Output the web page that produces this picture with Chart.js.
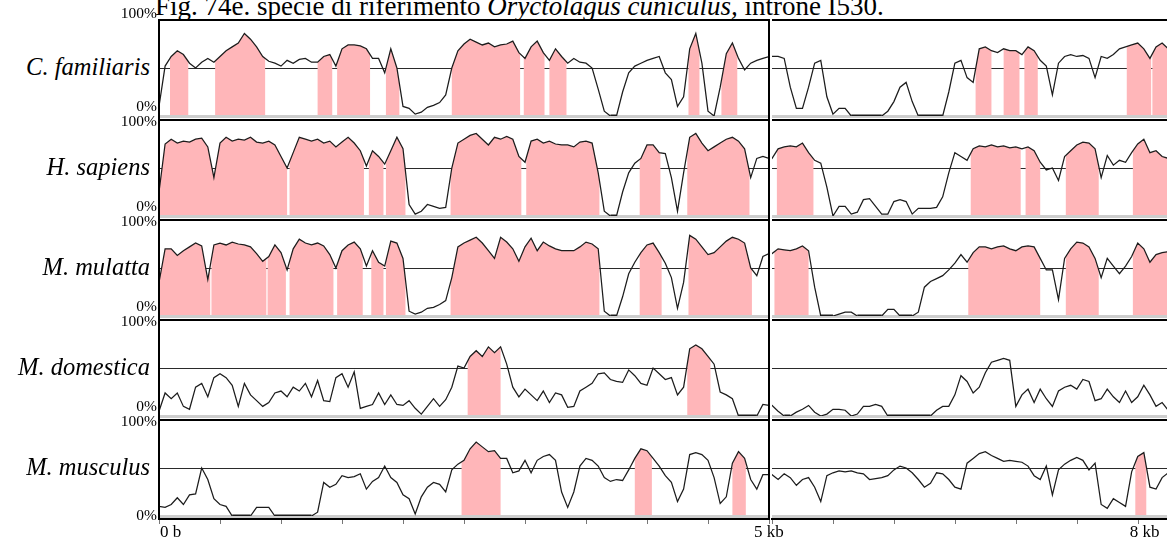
<!DOCTYPE html>
<html><head><meta charset="utf-8">
<script src="https://cdn.jsdelivr.net/npm/chart.js@4.4.1/dist/chart.umd.min.js"></script>
<style>
html,body{margin:0;padding:0;background:#fff;}
#wrap{position:relative;width:1167px;height:545px;overflow:hidden;font-family:"Liberation Serif","Times New Roman",serif;color:#000;background:#fff;}
canvas{position:absolute;}
.t{position:absolute;white-space:nowrap;line-height:1;}
</style></head><body><div id="wrap"></div>
<script>
// ---------- data ----------
const STEP_KB = 0.05;          // sampling step of the conservation curves (kb)
const X_MAX_KB = 8.24;
const SPLIT_KB = 5;
const TICK_STEP_KB = 0.5;
const species = ["C. familiaris", "H. sapiens", "M. mulatta", "M. domestica", "M. musculus"];
const yTickLabels = ["100%", "0%"];
const xTickLabels = [["0 b", 0], ["5 kb", 5], ["8 kb", 8]];
const threshold = 50;

const familiaris = [10,52,62,68,64,55,50,56,60,56, 62,68,72,76,86,80,72,62,57,55, 52,58,55,59,60,56,56,62,64,52,
 70,74,74,73,70,60,60,45,70,50, 10,8,2,4,9,11,14,22,50,68, 75,80,77,74,76,72,74,75,78,66,
 60,72,78,66,58,70,62,55,60,56, 55,50,28,5,0,0,25,45,52,55, 58,60,62,45,38,10,20,70,86,55,
 5,0,30,65,76,60,48,55,58,60, 62,62,60,30,8,8,30,55,58,20, 2,8,8,0,0,0,0,0,0,5,
 15,30,35,15,0,0,0,0,0,25, 55,58,40,35,70,72,68,66,70,68, 68,64,72,68,58,52,22,55,62,64,
 62,63,60,40,62,60,64,70,72,74, 76,70,60,72,76,70];
const sapiens = [25,75,80,76,78,77,80,81,72,40, 76,82,78,80,79,82,77,76,78,74, 62,50,66,82,80,78,80,76,78,72,
 77,82,76,68,52,68,62,54,68,82, 70,12,2,5,12,10,8,9,50,76, 80,84,86,80,74,82,80,83,80,62,
 56,78,80,76,78,75,74,74,72,77, 78,76,45,5,0,0,25,45,55,60, 74,74,66,65,40,5,45,82,86,76,
 68,72,76,80,82,78,70,40,60,62, 60,70,72,73,72,76,66,58,55,30, 0,10,10,2,4,17,18,10,2,2,
 15,17,15,2,8,8,8,9,20,45, 66,62,58,70,73,72,74,72,73,71, 72,70,72,68,56,48,50,37,62,68,
 74,77,76,70,40,63,53,58,56,66, 75,80,66,68,62,60];
const mulatta = [35,70,70,63,68,72,76,73,38,74, 76,74,77,75,74,72,65,57,62,74, 66,48,70,80,76,74,76,73,64,50,
 68,74,77,70,52,68,56,52,78,76, 60,5,2,4,8,9,12,16,40,72, 76,79,82,76,68,60,82,77,70,57,
 72,81,68,77,73,70,68,68,68,72, 77,75,70,5,0,0,20,44,56,66, 74,76,66,55,40,8,35,84,80,72,
 64,66,72,78,82,80,76,50,42,62, 65,70,69,68,70,73,68,30,0,0, 0,2,4,4,0,0,0,0,0,7,
 7,0,0,0,4,30,36,39,42,48, 55,64,56,66,72,72,70,72,73,70, 68,72,73,72,60,48,48,17,60,70,
 77,76,72,60,40,60,52,44,52,62, 76,70,56,64,66,67];
const domestica = [5,24,18,24,10,7,30,34,20,40, 44,40,32,10,34,22,16,10,14,24, 26,20,30,26,34,20,37,16,15,40,
 44,30,46,8,10,12,24,12,22,12, 11,16,8,2,10,18,10,17,30,52, 50,62,68,62,72,66,72,54,30,20,
 28,22,16,26,14,24,22,9,10,26, 30,34,44,45,38,36,35,48,42,34, 32,50,44,38,40,22,30,70,74,70,
 62,54,25,22,18,0,0,0,0,12, 11,5,0,0,4,7,11,4,0,2, 7,7,6,0,2,10,10,12,10,0,
 0,0,0,0,0,0,0,6,10,10, 22,42,36,24,30,45,56,58,60,58, 10,22,28,14,28,18,10,26,30,32,
 28,38,36,16,18,28,20,14,26,14, 20,32,22,10,14,6];
const musculus = [10,9,12,19,12,22,23,50,38,18, 12,10,0,0,0,0,9,9,9,0, 0,0,0,0,0,0,4,35,30,33,
 42,40,41,44,28,36,40,52,40,35, 22,18,2,20,30,35,33,25,48,54, 58,70,77,72,67,68,60,60,45,47,
 58,45,58,62,64,58,25,9,25,52, 60,58,52,40,36,38,37,48,60,70, 68,60,52,42,35,15,28,64,66,64,
 58,40,13,20,55,67,60,38,28,43, 43,38,44,40,32,38,40,30,15,42, 45,47,46,47,45,44,38,39,40,42,
 48,52,50,45,38,30,34,45,44,38, 30,28,55,60,65,67,63,60,57,58, 57,56,52,42,38,52,22,48,54,58,
 61,58,48,55,12,8,18,14,10,46, 62,66,30,28,40,45];

// conserved (pink) regions, [start kb, end kb]
const pinkFamiliaris = [[0.09,0.24],[0.46,0.87],[1.30,1.42],[1.46,1.73],[1.86,1.97],[2.40,2.96],[2.99,3.16],[3.20,3.34],
 [4.34,4.43],[4.61,4.74],[6.67,6.80],[6.90,7.03],[7.07,7.18],[7.91,8.11],[8.12,8.24]];
const pinkSapiens = [[0.0,1.05],[1.07,1.68],[1.72,1.84],[1.86,2.02],[2.39,2.97],[3.01,3.61],[3.94,4.11],[4.33,4.84],
 [5.04,5.34],[6.63,7.04],[7.08,7.20],[7.41,7.68],[7.96,8.24]];
const pinkMulatta = [[0.0,0.42],[0.43,0.88],[0.89,1.04],[1.07,1.43],[1.46,1.67],[1.74,1.84],[1.86,2.02],[2.39,3.61],
 [3.94,4.12],[4.34,4.86],[5.02,5.30],[6.61,7.20],[7.41,7.68],[7.96,8.24]];
const pinkDomestica = [[2.53,2.80],[4.33,4.52]];
const pinkMusculus = [[2.48,2.80],[3.90,4.04],[4.70,4.81],[7.98,8.07]];

const rows = [
  [familiaris, pinkFamiliaris], [sapiens, pinkSapiens], [mulatta, pinkMulatta],
  [domestica, pinkDomestica], [musculus, pinkMusculus]
];

// ---------- style ----------
const PINK = '#ffb6b9';
const LINE = '#1c1c1c';
const ROW_PITCH = 100, ROW_TOP = 20, PLOT_H = 96;
const COLS = [
  {left: 150, width: 630, padL: 9, padR: 11, min: 0, max: SPLIT_KB, first: true},
  {left: 765, width: 402, padL: 7, padR: 0, min: SPLIT_KB, max: X_MAX_KB, first: false}
];

const framePlugin = {
  id: 'frame',
  beforeDatasetsDraw(chart, args, o) {
    const {ctx, chartArea: a, scales: {x, y}} = chart;
    const yT = Math.round(y.getPixelForValue(threshold)) + 0.5;
    ctx.save();
    ctx.strokeStyle = '#2a2a2a'; ctx.lineWidth = 1;
    ctx.beginPath(); ctx.moveTo(a.left, yT); ctx.lineTo(a.right, yT); ctx.stroke();
    ctx.restore();
    ctx.save();
    ctx.beginPath();
    o.intervals.forEach(([s, e]) => {
      const x0 = x.getPixelForValue(s), x1 = x.getPixelForValue(e);
      ctx.rect(x0, a.top - 2, x1 - x0, a.bottom - a.top + 3);
    });
    ctx.clip();
  },
  afterDatasetDraw(chart, args) {
    if (args.index !== 1) return;
    const {ctx, chartArea: a, scales: {y}} = chart;
    ctx.restore();
    const y0 = y.getPixelForValue(0);
    ctx.save();
    ctx.strokeStyle = '#cdcdcd'; ctx.lineWidth = 3;
    ctx.beginPath(); ctx.moveTo(a.left, y0 + 0.5); ctx.lineTo(a.right, y0 + 0.5); ctx.stroke();
    ctx.restore();
  },
  afterDatasetsDraw(chart, args, o) {
    const {ctx, chartArea: a, scales: {x}} = chart;
    ctx.save();
    ctx.strokeStyle = '#000'; ctx.lineWidth = 2;
    const seg = (x0, y0, x1, y1) => { ctx.beginPath(); ctx.moveTo(x0, y0); ctx.lineTo(x1, y1); ctx.stroke(); };
    seg(a.left - (o.first ? 1 : 0), a.top, a.right + (o.first ? 1 : 0), a.top);
    if (o.first) {
      seg(a.left, a.top - 1, a.left, a.bottom + (o.bottom ? 4 : 5));
      seg(a.right, a.top - 1, a.right, a.bottom + (o.bottom ? 4 : 5));
    }
    if (o.bottom) {
      seg(a.left - 1, a.bottom + 3, a.right + 1, a.bottom + 3);
      ctx.strokeStyle = '#777'; ctx.lineWidth = 1;
      const start = Math.ceil(x.min / TICK_STEP_KB - 1e-9);
      for (let k = start; k * TICK_STEP_KB <= x.max + 1e-9; k++) {
        const px = Math.round(x.getPixelForValue(k * TICK_STEP_KB)) + 0.5;
        seg(px, a.bottom + 4, px, a.bottom + 8);
      }
    }
    ctx.restore();
  }
};

const wrap = document.getElementById('wrap');
function addText(txt, css) {
  const d = document.createElement('div');
  d.className = 't'; d.innerHTML = txt; Object.assign(d.style, css); wrap.appendChild(d); return d;
}

// title (partly above the top edge, as in the reference)
addText('Fig. 74e. specie di riferimento <i>Oryctolagus cuniculus,</i> introne I530.',
  {left: '155px', top: '-7px', fontSize: '27px'});

const zeroRun = c => (c.p0.parsed.y === 0 && c.p1.parsed.y === 0) ? 3 : undefined;

const charts = [];
rows.forEach(([vals, intervals], r) => {
  const bottom = r === rows.length - 1;
  COLS.forEach((c) => {
    const cv = document.createElement('canvas');
    const h = bottom ? 122 : 112;
    cv.width = c.width; cv.height = h;
    cv.style.left = c.left + 'px'; cv.style.top = (r * ROW_PITCH + ROW_TOP - 10) + 'px';
    cv.style.width = c.width + 'px'; cv.style.height = h + 'px';
    wrap.appendChild(cv);
    const pts = vals.map((v, i) => ({x: i * STEP_KB, y: v}));
    const ch = new Chart(cv.getContext('2d'), {
      type: 'line',
      data: {datasets: [
        {data: pts, borderColor: LINE, borderWidth: 1.25, pointRadius: 0, fill: false, tension: 0,
         segment: {borderWidth: zeroRun}},
        {data: pts, borderWidth: 0, borderColor: 'rgba(0,0,0,0)', backgroundColor: PINK, pointRadius: 0, fill: 'origin', tension: 0}
      ]},
      options: {
        responsive: false, animation: false, devicePixelRatio: 1, events: [],
        layout: {padding: {left: c.padL, right: c.padR, top: 10, bottom: h - 10 - PLOT_H}},
        scales: {
          x: {type: 'linear', min: c.min, max: c.max, display: false},
          y: {type: 'linear', min: 0, max: 100, display: false}
        },
        plugins: {legend: {display: false}, tooltip: {enabled: false},
          frame: {intervals, first: c.first, bottom}}
      },
      plugins: [framePlugin]
    });
    charts.push({ch, c, r});
  });
  // labels
  const top = r * ROW_PITCH + ROW_TOP;
  addText('<i>' + species[r] + '</i>', {right: (1167 - 150) + 'px', top: (top + PLOT_H / 2 - 13) + 'px', fontSize: '24.5px'});
  addText(yTickLabels[0], {right: (1167 - 157) + 'px', top: (r === 0 ? top - 15 : top - 7) + 'px', fontSize: '15.5px'});
  addText(yTickLabels[1], {right: (1167 - 157) + 'px', top: (bottom ? top + PLOT_H - 9 : top + PLOT_H - 18) + 'px', fontSize: '15.5px'});
});

// x axis labels, positioned through the bottom row scales
const lastLeft = charts.find(o => o.r === rows.length - 1 && o.c.first);
const lastRight = charts.find(o => o.r === rows.length - 1 && !o.c.first);
xTickLabels.forEach(([txt, kb], i) => {
  const o = kb <= SPLIT_KB ? lastLeft : lastRight;
  const px = o.c.left + o.ch.scales.x.getPixelForValue(kb);
  const d = addText(txt, {top: '523px', fontSize: '17px'});
  const w = d.offsetWidth;
  let left = i === 0 ? px + 1 : px - w / 2;
  if (i === 2) left = px - w / 2 + 7;
  d.style.left = left + 'px';
});
</script></body></html>
